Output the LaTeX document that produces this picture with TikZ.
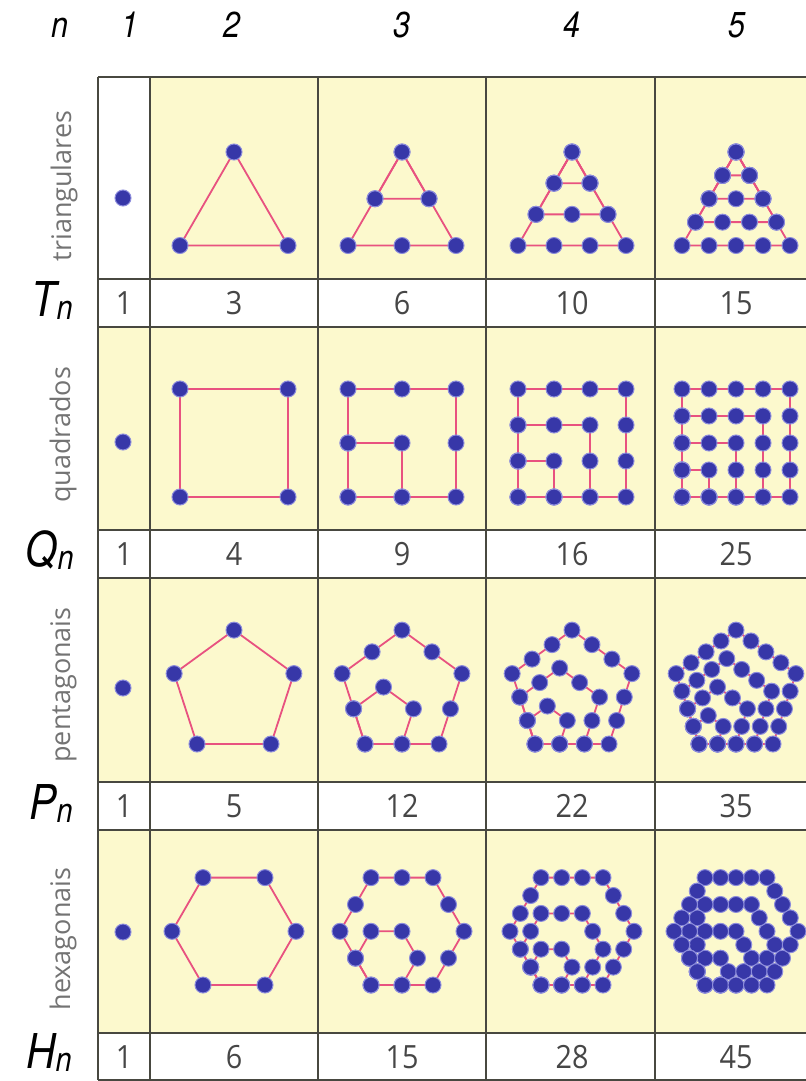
\documentclass[tikz,border=0pt]{standalone}
\usepackage{fontspec}
\setmainfont{Open Sans}
\newfontfamily\hdrfont[FakeStretch=0.85]{TeX Gyre Heros}
\newfontfamily\numfont[FakeStretch=0.9]{Open Sans}
\usepackage{xcolor}

\definecolor{cellyellow}{RGB}{252,249,205}
\definecolor{dotblue}{RGB}{55,55,168}
\definecolor{dotrim}{RGB}{140,140,220}
\definecolor{linepink}{RGB}{232,82,128}
\definecolor{gridgray}{RGB}{72,72,64}
\definecolor{labelgray}{RGB}{115,115,115}
\definecolor{numgray}{RGB}{70,70,70}

% subscript of the row symbols
\newcommand{\idx}[1]{{\fontsize{17}{17}\selectfont\raisebox{-1.5pt}{#1}}}

% nested polygons sharing one vertex: sides, n, x, y, side, start angle
\newcommand{\drawfig}[6]{%
  \pgfmathsetmacro{\gap}{#5/(#2-1)}
  \pgfmathsetmacro{\turn}{360/#1}
  \pgfmathtruncatemacro{\nm}{#2-1}
  \pgfmathtruncatemacro{\km}{#1-1}
  \pgfmathtruncatemacro{\kmm}{#1-2}
  \foreach \j in {1,...,\nm} {
    \pgfmathsetmacro{\L}{\j*\gap}
    \draw[edge] (#3,-#4) \foreach \i in {0,...,\kmm} { -- ++({#6+\i*\turn}:\L) } -- cycle;
  }
  \foreach \j in {1,...,\nm} {
    \pgfmathsetmacro{\L}{\j*\gap}
    \pgfmathtruncatemacro{\jm}{\j-1}
    \foreach \i in {0,...,\km} {
      \foreach \m in {0,...,\jm} {
        \fill[dot] (#3,-#4) ++({#6+(\i-1)*\turn/2}:{\L*sin(\i*\turn/2)/sin(\turn/2)})
          ++({#6+\i*\turn}:{\m*\gap}) circle (4pt);
      }
    }
  }
}

\begin{document}
\begin{tikzpicture}[
    x=0.5pt, y=0.5pt,
    grid/.style={
        draw=gridgray,
        line width=0.75pt
    },
    edge/.style={
        draw=linepink,
        line width=0.9pt,
        line join=round
    },
    dot/.style={
        fill=dotblue,
        draw=dotrim,
        line width=0.5pt
    },
    hdr/.style={
        anchor=base,
        inner sep=0pt,
        font=\hdrfont\itshape\fontsize{18}{18}\selectfont
    },
    sym/.style={
        anchor=base east,
        inner sep=0pt,
        font=\hdrfont\itshape\fontsize{24}{24}\selectfont
    },
    rowlabel/.style={
        anchor=base,
        rotate=90,
        inner sep=0pt,
        text=labelgray,
        font=\fontsize{13.5}{13.5}\selectfont
    },
    num/.style={
        inner sep=0pt,
        text=numgray,
        font=\numfont\fontsize{16}{16}\selectfont
    }
]
\useasboundingbox (0,0) rectangle (806,-1081);

% Cells
\fill[cellyellow] (98,-77) rectangle (806,-279);
\fill[white] (98,-77) rectangle (150,-279);
\fill[cellyellow] (98,-327) rectangle (806,-530);
\fill[cellyellow] (98,-578) rectangle (806,-782);
\fill[cellyellow] (98,-830) rectangle (806,-1033);

% Grid
\foreach \yy in {77,279,327,530,578,782,830,1033,1080}
    \draw[grid] (98,-\yy) -- (806,-\yy);
\foreach \xx in {98,150,318,486,655}
    \draw[grid] (\xx,-77) -- (\xx,-1080);

% Header
\node[hdr] (hdr-n) at (60,-38) {n};
\foreach \xx/\c in {130/1,232/2,402/3,572/4,737/5}
    \node[hdr] (hdr-\c) at (\xx,-38) {\c};

% Row labels
\node[rowlabel] (lbl-T) at (71,-186) {triangulares};
\node[rowlabel] (lbl-Q) at (70,-435) {quadrados};
\node[rowlabel] (lbl-P) at (70,-685) {pentagonais};
\node[rowlabel] (lbl-H) at (70,-939) {hexagonais};

\node[sym] (sym-T) at (73,-316) {T\idx{n}};
\node[sym] (sym-Q) at (74,-566) {Q\idx{n}};
\node[sym] (sym-P) at (73,-819) {P\idx{n}};
\node[sym] (sym-H) at (72,-1068) {H\idx{n}};

% Values
\foreach \xx/\v [count=\c] in {124/1,234/3,402/6,572/10,736/15}
    \node[num] (T-val-\c) at (\xx,-303) {\v};
\foreach \xx/\v [count=\c] in {124/1,234/4,402/9,572/16,736/25}
    \node[num] (Q-val-\c) at (\xx,-554) {\v};
\foreach \xx/\v [count=\c] in {124/1,234/5,402/12,572/22,736/35}
    \node[num] (P-val-\c) at (\xx,-806) {\v};
\foreach \xx/\v [count=\c] in {124/1,234/6,402/15,572/28,736/45}
    \node[num] (H-val-\c) at (\xx,-1057) {\v};

% n = 1
\foreach \yy in {198,442,688,932}
    \fill[dot] (123,-\yy) circle (4pt);

% Figures
\foreach \xx/\n in {234/2,402/3,572/4,736/5} {
    \drawfig{3}{\n}{\xx}{152}{108}{240}
    \drawfig{4}{\n}{\xx-54}{497}{108}{0}
    \drawfig{5}{\n}{\xx-37}{744}{74}{0}
    \drawfig{6}{\n}{\xx-31}{985}{62}{0}
}

\end{tikzpicture}
\end{document}
